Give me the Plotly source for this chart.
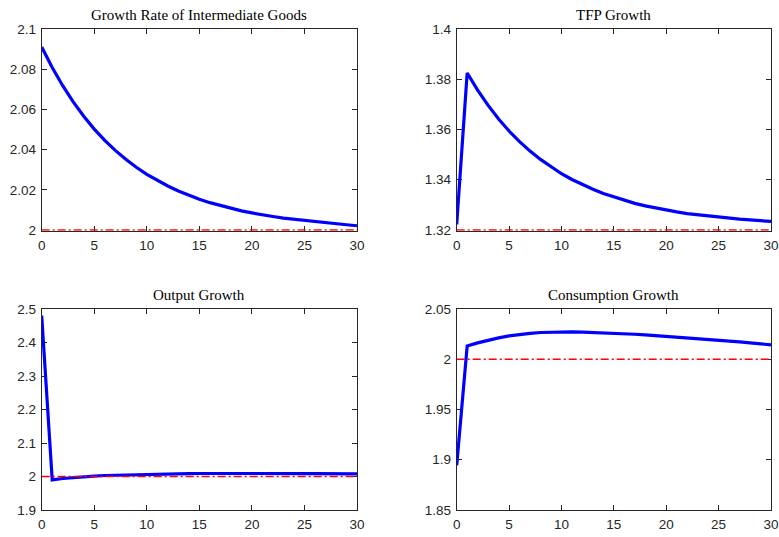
import plotly.graph_objects as go

periods = list(range(31))

intermediate_growth = [2.0910, 2.0808, 2.0718, 2.0637, 2.0566, 2.0502, 2.0446, 2.0396, 2.0352, 2.0312,
                       2.0277, 2.0246, 2.0219, 2.0194, 2.0173, 2.0153, 2.0136, 2.0121, 2.0107, 2.0095,
                       2.0085, 2.0075, 2.0067, 2.0059, 2.0053, 2.0047, 2.0041, 2.0036, 2.0031, 2.0026, 2.0021]
tfp_growth = [1.3222, 1.3825, 1.3757, 1.3696, 1.3642, 1.3594, 1.3552, 1.3514, 1.3481, 1.3451,
              1.3424, 1.3401, 1.3380, 1.3362, 1.3345, 1.3331, 1.3318, 1.3306, 1.3296, 1.3287,
              1.3279, 1.3272, 1.3265, 1.3260, 1.3255, 1.3250, 1.3246, 1.3243, 1.3240, 1.3237, 1.3234]
output_growth = [2.480, 1.990, 1.994, 1.997, 1.999, 2.001, 2.003, 2.004, 2.005, 2.006,
                 2.007, 2.0075, 2.008, 2.0085, 2.0088, 2.009, 2.0092, 2.0093, 2.0094, 2.0094,
                 2.0094, 2.0093, 2.0092, 2.0091, 2.009, 2.0088, 2.0086, 2.0084, 2.0082, 2.008, 2.0078]
consumption_growth = [1.8945, 2.0133, 2.0163, 2.0190, 2.0213, 2.0232, 2.0247, 2.0258, 2.0266, 2.0270,
                      2.0272, 2.0272, 2.0270, 2.0267, 2.0263, 2.0260, 2.0255, 2.0249, 2.0242, 2.0235,
                      2.0227, 2.0220, 2.0213, 2.0206, 2.0198, 2.0190, 2.0181, 2.0172, 2.0163, 2.0153, 2.0143]

steady_intermediate = 2.0
steady_tfp = 1.32
steady_output = 2.0
steady_consumption = 2.0

titles = ["Growth Rate of Intermediate Goods", "TFP Growth", "Output Growth", "Consumption Growth"]

x_ticks = [0, 5, 10, 15, 20, 25, 30]
y_ticks_1 = [2.0, 2.02, 2.04, 2.06, 2.08, 2.1]
y_text_1 = ["2", "2.02", "2.04", "2.06", "2.08", "2.1"]
y_ticks_2 = [1.32, 1.34, 1.36, 1.38, 1.4]
y_text_2 = ["1.32", "1.34", "1.36", "1.38", "1.4"]
y_ticks_3 = [1.9, 2.0, 2.1, 2.2, 2.3, 2.4, 2.5]
y_text_3 = ["1.9", "2", "2.1", "2.2", "2.3", "2.4", "2.5"]
y_ticks_4 = [1.85, 1.9, 1.95, 2.0, 2.05]
y_text_4 = ["1.85", "1.9", "1.95", "2", "2.05"]

W, H = 779, 537
# pixel boxes (left, right, top, bottom)
boxes = [(41.7, 357, 29, 230), (456.7, 771, 29, 230), (41.7, 357, 309, 510), (456.7, 771, 309, 510)]
# small bottom padding (in pixels) so a steady-state line lying on the lower frame stays visible
bottom_pad_px = [0.8, 0.8, 0, 0]

series = [intermediate_growth, tfp_growth, output_growth, consumption_growth]
steadies = [steady_intermediate, steady_tfp, steady_output, steady_consumption]
yticks = [(y_ticks_1, y_text_1), (y_ticks_2, y_text_2), (y_ticks_3, y_text_3), (y_ticks_4, y_text_4)]

fig = go.Figure()
layout = dict(width=W, height=H, margin=dict(l=0, r=0, t=0, b=0, autoexpand=False),
              paper_bgcolor="white", plot_bgcolor="white", showlegend=False)
annotations = []
axis_col = "#262626"
tick_font = dict(family="Liberation Sans, Arial, sans-serif", size=13.5, color=axis_col)

for i in range(4):
    xa = "x" if i == 0 else f"x{i+1}"
    ya = "y" if i == 0 else f"y{i+1}"
    xkey = "xaxis" if i == 0 else f"xaxis{i+1}"
    ykey = "yaxis" if i == 0 else f"yaxis{i+1}"
    l, r, t, b = boxes[i]
    yv, yt = yticks[i]
    fig.add_trace(go.Scatter(x=periods, y=series[i], mode="lines",
                             line=dict(color="#0000FF", width=3.2), xaxis=xa, yaxis=ya))
    fig.add_trace(go.Scatter(x=periods, y=[steadies[i]] * len(periods), mode="lines",
                             line=dict(color="#FF0000", width=1.5, dash="8px,3px,2px,3px"),
                             xaxis=xa, yaxis=ya))
    common = dict(showline=True, linecolor=axis_col, linewidth=1, mirror="ticks",
                  ticks="inside", ticklen=5, tickwidth=1, tickcolor=axis_col,
                  showgrid=False, zeroline=False, tickfont=tick_font, automargin=False,
                  layer="below traces")
    span = yv[-1] - yv[0]
    pad = span * bottom_pad_px[i] / (b - t)
    layout[xkey] = dict(domain=[l / W, r / W], range=[0, 30], tickvals=x_ticks,
                        ticktext=[str(v) for v in x_ticks], anchor=ya, ticklabelstandoff=2, **common)
    layout[ykey] = dict(domain=[1 - (b + bottom_pad_px[i]) / H, 1 - t / H],
                        range=[yv[0] - pad, yv[-1]], tickvals=yv,
                        ticktext=yt, anchor=xa, ticklabelstandoff=2, **common)
    annotations.append(dict(text=titles[i], x=(l + r) / 2 / W, y=1 - (t - 4) / H,
                            xref="paper", yref="paper", xanchor="center", yanchor="bottom",
                            showarrow=False,
                            font=dict(family="Liberation Serif, DejaVu Serif, serif", size=15, color="#000000")))

layout["annotations"] = annotations
fig.update_layout(**layout)
fig.write_html("out.html", config={"displayModeBar": False},
               post_script="document.body.style.margin='0';document.body.style.overflow='hidden';")
